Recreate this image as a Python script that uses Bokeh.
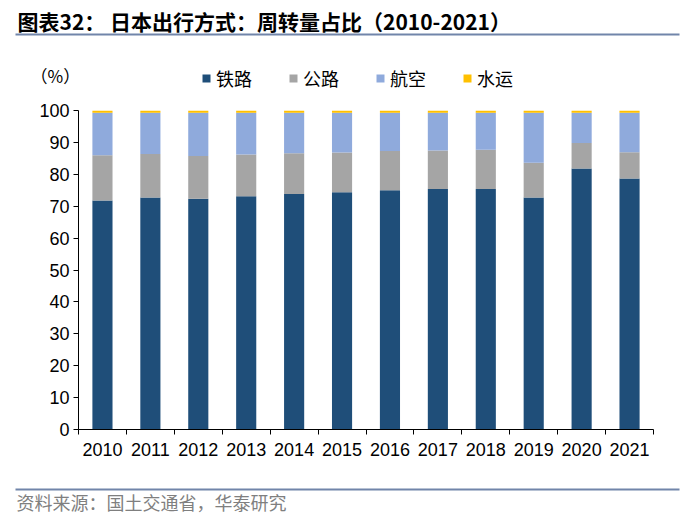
from bokeh.plotting import figure
from bokeh.models import FixedTicker, Legend, LegendItem, Range1d
from bokeh.layouts import column
from bokeh.core.properties import value
from bokeh.embed import file_html
from bokeh.resources import INLINE

years = ["2010", "2011", "2012", "2013", "2014", "2015", "2016", "2017", "2018", "2019", "2020", "2021"]
rail = [71.8, 72.7, 72.3, 73.1, 73.8, 74.4, 75.0, 75.4, 75.4, 72.7, 81.8, 78.7]
road = [14.2, 13.7, 13.4, 13.1, 12.8, 12.4, 12.3, 12.1, 12.3, 10.9, 8.0, 8.2]
air = [13.3, 12.9, 13.6, 13.1, 12.7, 12.5, 12.0, 11.8, 11.6, 15.7, 9.5, 12.4]
water = [0.7, 0.7, 0.7, 0.7, 0.7, 0.7, 0.7, 0.7, 0.7, 0.7, 0.7, 0.7]
series_names = ["铁路", "公路", "航空", "水运"]
colors = ["#1F4E79", "#A5A5A5", "#8FAADC", "#FFC000"]
y_ticks = [0, 10, 20, 30, 40, 50, 60, 70, 80, 90, 100]
title_text = "图表32：  日本出行方式：周转量占比（2010-2021）"
unit_text = "（%）"
source_text = "资料来源：国土交通省，华泰研究"

W = 700
LINE_COLOR = "#7185AA"
CJK = "Noto Sans CJK SC"

def blank(height, y_end):
    f = figure(width=W, height=height, output_backend="svg", toolbar_location=None,
               x_range=Range1d(0, W), y_range=Range1d(y_end, 0),
               x_axis_location=None, y_axis_location=None,
               min_border=0, min_border_left=0, min_border_right=0,
               min_border_top=0, min_border_bottom=0, frame_align=False)
    f.outline_line_color = None
    f.xgrid.grid_line_color = None
    f.ygrid.grid_line_color = None
    return f

# ---------------- header (page y 0..100)
hdr = blank(100, 100)
hdr.text(x=[17], y=[20], text=[title_text], text_font=value(CJK), text_font_style="bold",
         text_font_size="21px", text_baseline="middle", text_color="black")
hdr.segment(x0=[15], y0=[34], x1=[679], y1=[34], line_color=LINE_COLOR, line_width=2)
hdr.text(x=[30], y=[75], text=[unit_text], text_font=value(CJK), text_font_size="17px",
         text_baseline="middle", text_color="black")
# legend key glyphs (hidden renderers; only their legend swatches are shown)
dummies = []
for c in colors:
    r = hdr.scatter(x=[0], y=[0], marker="square", size=8, color=c, line_color=None)
    r.visible = False
    dummies.append(r)
legend = Legend(items=[LegendItem(label=n, renderers=[r]) for n, r in zip(series_names, dummies)],
                orientation="horizontal", location=(196, 9),
                glyph_width=20, glyph_height=20, label_standoff=0, spacing=31,
                padding=0, margin=0, border_line_color=None, background_fill_alpha=0,
                inactive_fill_alpha=0,
                label_text_font=CJK, label_text_font_size="18px", label_height=20,
                label_text_color="black")
hdr.add_layout(legend, "center")

# ---------------- main chart (page y 100..480)
p = figure(width=W, height=380, output_backend="svg", toolbar_location=None,
           x_range=Range1d(0, len(years)), y_range=Range1d(0, 100),
           min_border_left=78, min_border_right=47, min_border_top=10, min_border_bottom=51,
           frame_align=False)
p.outline_line_color = None
p.xgrid.grid_line_color = None
p.ygrid.grid_line_color = None

xs = [i + 0.5 for i in range(len(years))]
data = dict(x=xs, rail=rail, road=road, air=air, water=water)
p.vbar_stack(["rail", "road", "air", "water"], x="x", width=0.42, source=data,
             color=colors, line_color=None)

p.xaxis.ticker = FixedTicker(ticks=xs, minor_ticks=list(range(len(years) + 1)))
p.xaxis.major_label_overrides = {x: y for x, y in zip(xs, years)}
p.xaxis.major_tick_out = 0
p.xaxis.major_tick_in = 0
p.xaxis.minor_tick_out = 5
p.xaxis.minor_tick_in = 0
p.xaxis.minor_tick_line_color = "black"
p.xaxis.axis_line_color = "black"
p.xaxis.major_label_text_font = "Liberation Sans"
p.xaxis.major_label_text_font_size = "18px"
p.xaxis.major_label_text_color = "black"
p.xaxis.major_label_standoff = 8

p.yaxis.ticker = FixedTicker(ticks=y_ticks)
p.yaxis.major_tick_out = 5
p.yaxis.major_tick_in = 0
p.yaxis.minor_tick_line_color = None
p.yaxis.axis_line_color = "black"
p.yaxis.major_label_text_font = "Liberation Sans"
p.yaxis.major_label_text_font_size = "18px"
p.yaxis.major_label_text_color = "black"
p.yaxis.major_label_standoff = 4

# ---------------- footer (page y 480..523)
ftr = blank(43, 43)
ftr.segment(x0=[15], y0=[9], x1=[679], y1=[9], line_color=LINE_COLOR, line_width=2)
ftr.text(x=[16], y=[21], text=[source_text], text_font=value(CJK), text_font_size="18px",
         text_baseline="middle", text_color="#7F7F7F")

layout = column(hdr, p, ftr, spacing=0)
open("out.html", "w").write(file_html(layout, INLINE))
